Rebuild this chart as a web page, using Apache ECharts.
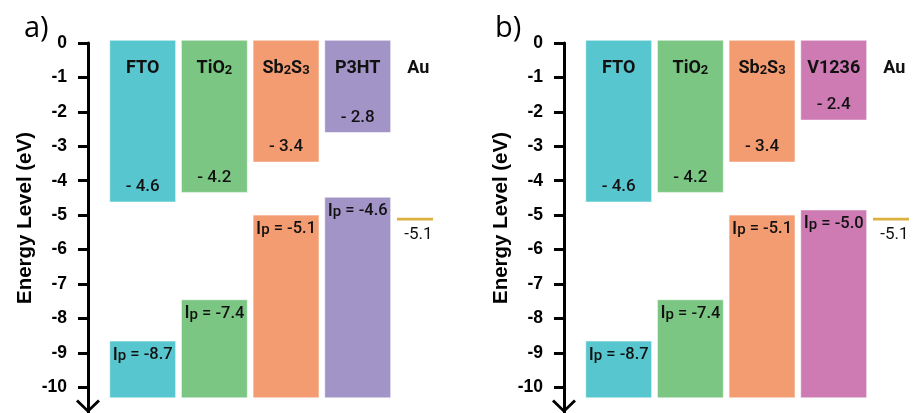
<!DOCTYPE html>
<html>
<head>
<meta charset="utf-8">
<script src="https://cdn.jsdelivr.net/npm/echarts@6/dist/echarts.min.js"></script>
<style>html,body{margin:0;padding:0;background:#fff}#c{width:913px;height:413px}</style>
</head>
<body>
<div id="c"></div>
<script>
// ---------- data ----------
const layersA = ['FTO', 'TiO2', 'Sb2S3', 'P3HT'];
const layersB = ['FTO', 'TiO2', 'Sb2S3', 'V1236'];
// labelled energy levels (eV)
const cbLabelA = [-4.6, -4.2, -3.4, -2.8];
const ipLabelA = [-8.7, -7.4, -5.1, -4.6];
const cbLabelB = [-4.6, -4.2, -3.4, -2.4];
const ipLabelB = [-8.7, -7.4, -5.1, -5.0];
// level edges as drawn in the picture (eV)
const cbDrawnA = [-4.62, -4.34, -3.46, -2.60];
const ipDrawnA = [-8.66, -7.46, -5.00, -4.48];
const cbDrawnB = [-4.62, -4.34, -3.46, -2.24];
const ipDrawnB = [-8.66, -7.46, -5.00, -4.85];
const auLevel = -5.12;
const auLabel = -5.1;
const bandTop = 0.08;
const bandBottom = -10.31;
const yTicks = [0, -1, -2, -3, -4, -5, -6, -7, -8, -9, -10];

// ---------- styles ----------
const colorMap = {FTO: '#58C6CF', TiO2: '#7BC682', Sb2S3: '#F39C72', P3HT: '#A394C8', V1236: '#CE7BB4'};
const auColor = '#DCB03E';
const txt = '#111';
const nameRich = {TiO2: '{m|TiO}{s|2}', Sb2S3: '{m|Sb}{s|2}{m|S}{s|3}'};
const nameStyles = {
  m: {fontFamily: 'Roboto', fontWeight: 'bold', fontSize: 18, fill: txt},
  s: {fontFamily: 'Roboto', fontWeight: 'bold', fontSize: 13, fill: txt, verticalAlign: 'bottom'}
};
const ipStyles = {
  i: {fontFamily: 'Roboto', fontWeight: 500, fontSize: 18, fill: txt},
  p: {fontFamily: 'Roboto', fontWeight: 500, fontSize: 15, fill: txt, verticalAlign: 'bottom'},
  v: {fontFamily: 'Roboto', fontWeight: 500, fontSize: 16.5, fill: txt}
};

function makeLayerRender(names, cbLabel, ipLabel) {
  return function (params, api) {
    const i = params.dataIndex;
    const xi = api.value(0);
    const top = api.coord([xi, bandTop]);
    const cb = api.coord([xi, api.value(1)]);
    const ip = api.coord([xi, api.value(2)]);
    const bot = api.coord([xi, bandBottom]);
    const w = api.size([1, 0])[0] * 0.92;
    const x = top[0] - w / 2;
    const name = names[i];
    const col = colorMap[name];
    const rectStyle = {fill: col, stroke: 'rgba(255,255,255,0.55)', lineWidth: 1};
    return {
      type: 'group',
      children: [
        {type: 'rect', shape: {x: x, y: top[1], width: w, height: cb[1] - top[1]}, style: rectStyle},
        {type: 'rect', shape: {x: x, y: ip[1], width: w, height: bot[1] - ip[1]}, style: rectStyle},
        {type: 'text', x: top[0], y: top[1] + 28, style: {
          text: nameRich[name] || ('{m|' + name + '}'), rich: nameStyles, align: 'center', verticalAlign: 'middle'}},
        {type: 'text', x: top[0], y: cb[1] - 15, style: {
          text: '- ' + Math.abs(cbLabel[i]).toFixed(1), fontFamily: 'Roboto', fontWeight: 500, fontSize: 17,
          fill: txt, align: 'center', verticalAlign: 'middle'}},
        {type: 'text', x: top[0], y: ip[1] + 14, style: {
          text: '{i|I}{p|p}{v| = ' + ipLabel[i].toFixed(1) + '}', rich: ipStyles, align: 'center', verticalAlign: 'middle'}}
      ]
    };
  };
}

function renderAu(params, api) {
  const xi = api.value(0);
  const top = api.coord([xi, bandTop]);
  const lv = api.coord([xi, api.value(1)]);
  const cx = lv[0] - 11;
  return {
    type: 'group',
    children: [
      {type: 'line', shape: {x1: lv[0] - 32.4, y1: lv[1], x2: lv[0] + 3.6, y2: lv[1]},
        style: {stroke: auColor, lineWidth: 2.8}},
      {type: 'text', x: cx, y: top[1] + 28, style: {text: 'Au', fontFamily: 'Roboto', fontWeight: 'bold', fontSize: 18,
        fill: txt, align: 'center', verticalAlign: 'middle'}},
      {type: 'text', x: cx, y: lv[1] + 16, style: {text: auLabel.toFixed(1), fontFamily: 'Roboto', fontWeight: 'normal', fontSize: 17,
        fill: txt, align: 'center', verticalAlign: 'middle'}}
    ]
  };
}

const chevron = 'path://M12,0 L24,11.5 L22,13.5 L12,3.8 L2,13.5 L0,11.5 Z';

function yAxisCfg(g) {
  return {
    type: 'value', gridIndex: g, min: -10.75, max: 0, offset: 18.9,
    splitLine: {show: false},
    axisLine: {show: true, lineStyle: {color: '#000', width: 3},
      symbol: [chevron, 'none'], symbolSize: [24, 13.5], symbolOffset: [6.75, 0]},
    axisTick: {show: true, length: 10, lineStyle: {color: '#000', width: 3}, customValues: yTicks},
    axisLabel: {customValues: yTicks, margin: 21, color: '#000', fontFamily: 'Liberation Sans',
      fontWeight: 'bold', fontSize: 17.5},
    name: 'Energy Level (eV)', nameLocation: 'middle', nameGap: 52,
    nameTextStyle: {color: '#000', fontFamily: 'Liberation Sans', fontWeight: 'bold', fontSize: 20.5,
      padding: [0, 0, 0, 20]}
  };
}

function xAxisCfg(g, names) {
  return {type: 'category', gridIndex: g, data: names, show: false, boundaryGap: true};
}

const option = {
  animation: false,
  backgroundColor: '#fff',
  grid: [
    {left: 106.87, top: 43, width: 286.67, height: 370},
    {left: 582.87, top: 43, width: 286.67, height: 370}
  ],
  xAxis: [xAxisCfg(0, layersA), xAxisCfg(1, layersB)],
  yAxis: [yAxisCfg(0), yAxisCfg(1)],
  graphic: [
    {type: 'text', left: 24, top: 14, style: {text: 'a)', font: '29px "Open Sans"', fill: '#000'}},
    {type: 'text', left: 495, top: 14, style: {text: 'b)', font: '29px "Open Sans"', fill: '#000'}}
  ],
  series: [
    {type: 'custom', xAxisIndex: 0, yAxisIndex: 0, clip: false,
      renderItem: makeLayerRender(layersA, cbLabelA, ipLabelA),
      data: layersA.map((n, i) => [i, cbDrawnA[i], ipDrawnA[i]])},
    {type: 'custom', xAxisIndex: 0, yAxisIndex: 0, clip: false, renderItem: renderAu,
      data: [[layersA.length, auLevel]]},
    {type: 'custom', xAxisIndex: 1, yAxisIndex: 1, clip: false,
      renderItem: makeLayerRender(layersB, cbLabelB, ipLabelB),
      data: layersB.map((n, i) => [i, cbDrawnB[i], ipDrawnB[i]])},
    {type: 'custom', xAxisIndex: 1, yAxisIndex: 1, clip: false, renderItem: renderAu,
      data: [[layersB.length, auLevel]]}
  ]
};

const chart = echarts.init(document.getElementById('c'));
chart.setOption(option);
</script>
</body>
</html>
